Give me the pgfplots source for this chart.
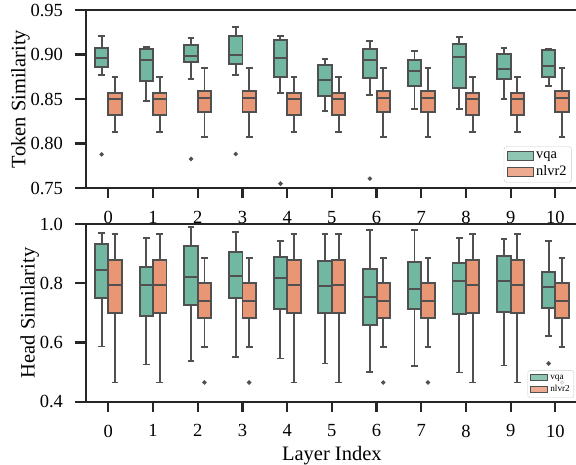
\documentclass[border=0pt]{standalone}
\usepackage{pgfplots}
\pgfplotsset{compat=1.18}
\usepgfplotslibrary{statistics}
\usepackage{fontspec}
\setmainfont{Liberation Serif}
\definecolor{vqa}{RGB}{114,183,161}
\definecolor{nlv}{RGB}{233,150,117}
\definecolor{bgray}{RGB}{80,80,80}
\definecolor{spine}{RGB}{38,38,38}
\pgfplotsset{
  boxplot/draw direction=y,
  boxplot/box extend=0.3,
  boxplot/whisker extend=0.15,
  boxplot/every whisker/.style={draw=bgray, line width=1.9pt},
  boxplot/every median/.style={draw=bgray, line width=1.9pt},
  boxplot/every box/.style={draw=bgray, line width=1.9pt},
  base/.style={
    scale only axis, width=491.7pt,
    xmin=-0.5, xmax=10.5,
    xtick={0,1,2,3,4,5,6,7,8,9,10},
    tick pos=left, tick align=outside,
    major tick length=10.5pt,
    axis line style={spine, line width=2.2pt},
    every tick/.style={spine, line width=2.2pt},
    tick label style={font=\fontsize{18.5}{20}\selectfont},
    xticklabel style={yshift=-9pt},
    yticklabel style={xshift=-9pt},
    label style={font=\fontsize{20.5}{24}\selectfont},
    ylabel style={yshift=-6pt},
    xlabel style={yshift=-2pt},
    /pgf/number format/assume math mode=true,
    legend cell align=left,
  },
  bx/.style={draw=bgray, line width=1.9pt, solid, forget plot, mark=*, mark size=1.1pt, mark options={fill=bgray!70!black, draw=none}},
}
\begin{document}
\begin{tikzpicture}
% ---------------- top panel ----------------
\begin{axis}[base, at={(86pt,277pt)}, anchor=south west, height=178pt,
  ymin=0.75, ymax=0.95, ytick={0.75,0.80,0.85,0.90,0.95},
  yticklabel style={/pgf/number format/.cd, fixed, fixed zerofill, precision=2},
  ylabel={Token Similarity},
  legend style={at={(0.988,0.03)}, anchor=south east, draw=black!20, rounded corners=3pt,
    fill=white, fill opacity=0.8, text opacity=1, font=\fontsize{14.4}{17}\selectfont,
    inner sep=3pt, row sep=2pt},
  legend image code/.code={\draw[#1, sharp corners] (0pt,-4.5pt) rectangle (26pt,4.5pt);},
]
\addlegendimage{fill=vqa, draw=bgray, line width=1.2pt}
\addlegendentry{vqa}
\addlegendimage{fill=nlv, draw=bgray, line width=1.2pt}
\addlegendentry{nlvr2}
% vqa
\addplot[bx, fill=vqa, boxplot prepared={draw position=-0.15, lower whisker=0.8773, lower quartile=0.886, median=0.8961, upper quartile=0.9077, upper whisker=0.9208}] coordinates {(0,0.7878)};
\addplot[bx, fill=vqa, boxplot prepared={draw position=0.85, lower whisker=0.8481, lower quartile=0.8699, median=0.8934, upper quartile=0.9058, upper whisker=0.9088}] coordinates {};
\addplot[bx, fill=vqa, boxplot prepared={draw position=1.85, lower whisker=0.8721, lower quartile=0.8916, median=0.8983, upper quartile=0.9103, upper whisker=0.9182}] coordinates {(0,0.7826)};
\addplot[bx, fill=vqa, boxplot prepared={draw position=2.85, lower whisker=0.877, lower quartile=0.8897, median=0.8991, upper quartile=0.9212, upper whisker=0.9313}] coordinates {(0,0.7882)};
\addplot[bx, fill=vqa, boxplot prepared={draw position=3.85, lower whisker=0.8567, lower quartile=0.8747, median=0.8961, upper quartile=0.9159, upper whisker=0.9212}] coordinates {(0,0.7549)};
\addplot[bx, fill=vqa, boxplot prepared={draw position=4.85, lower whisker=0.8369, lower quartile=0.853, median=0.8717, upper quartile=0.8882, upper whisker=0.8953}] coordinates {};
\addplot[bx, fill=vqa, boxplot prepared={draw position=5.85, lower whisker=0.8549, lower quartile=0.8736, median=0.8938, upper quartile=0.9062, upper whisker=0.9152}] coordinates {(0,0.7605)};
\addplot[bx, fill=vqa, boxplot prepared={draw position=6.85, lower whisker=0.8391, lower quartile=0.865, median=0.8818, upper quartile=0.8938, upper whisker=0.9039}] coordinates {};
\addplot[bx, fill=vqa, boxplot prepared={draw position=7.85, lower whisker=0.8384, lower quartile=0.8624, median=0.8968, upper quartile=0.9114, upper whisker=0.92}] coordinates {};
\addplot[bx, fill=vqa, boxplot prepared={draw position=8.85, lower whisker=0.8496, lower quartile=0.8721, median=0.8837, upper quartile=0.9002, upper whisker=0.9069}] coordinates {};
\addplot[bx, fill=vqa, boxplot prepared={draw position=9.85, lower whisker=0.8646, lower quartile=0.8747, median=0.8867, upper quartile=0.9054, upper whisker=0.9066}] coordinates {};
% nlvr2
\addplot[bx, fill=nlv, boxplot prepared={draw position=0.15, lower whisker=0.8133, lower quartile=0.8317, median=0.85, upper quartile=0.8564, upper whisker=0.8747}] coordinates {};
\addplot[bx, fill=nlv, boxplot prepared={draw position=1.15, lower whisker=0.8133, lower quartile=0.8317, median=0.85, upper quartile=0.8564, upper whisker=0.8747}] coordinates {};
\addplot[bx, fill=nlv, boxplot prepared={draw position=2.15, lower whisker=0.8069, lower quartile=0.8354, median=0.8515, upper quartile=0.8586, upper whisker=0.8845}] coordinates {};
\addplot[bx, fill=nlv, boxplot prepared={draw position=3.15, lower whisker=0.8069, lower quartile=0.8354, median=0.8515, upper quartile=0.8586, upper whisker=0.8845}] coordinates {};
\addplot[bx, fill=nlv, boxplot prepared={draw position=4.15, lower whisker=0.8133, lower quartile=0.8317, median=0.85, upper quartile=0.8564, upper whisker=0.8747}] coordinates {};
\addplot[bx, fill=nlv, boxplot prepared={draw position=5.15, lower whisker=0.8133, lower quartile=0.8317, median=0.85, upper quartile=0.8564, upper whisker=0.8747}] coordinates {};
\addplot[bx, fill=nlv, boxplot prepared={draw position=6.15, lower whisker=0.8069, lower quartile=0.8354, median=0.8515, upper quartile=0.8586, upper whisker=0.8845}] coordinates {};
\addplot[bx, fill=nlv, boxplot prepared={draw position=7.15, lower whisker=0.8069, lower quartile=0.8354, median=0.8515, upper quartile=0.8586, upper whisker=0.8845}] coordinates {};
\addplot[bx, fill=nlv, boxplot prepared={draw position=8.15, lower whisker=0.8133, lower quartile=0.8317, median=0.85, upper quartile=0.8564, upper whisker=0.8747}] coordinates {};
\addplot[bx, fill=nlv, boxplot prepared={draw position=9.15, lower whisker=0.8133, lower quartile=0.8317, median=0.85, upper quartile=0.8564, upper whisker=0.8747}] coordinates {};
\addplot[bx, fill=nlv, boxplot prepared={draw position=10.15, lower whisker=0.8069, lower quartile=0.8354, median=0.8515, upper quartile=0.8586, upper whisker=0.8845}] coordinates {};
\end{axis}
% ---------------- bottom panel ----------------
\begin{axis}[base, at={(86pt,63.3pt)}, anchor=south west, height=177.7pt,
  ymin=0.4, ymax=1.0, ytick={0.4,0.6,0.8,1.0},
  yticklabel style={/pgf/number format/.cd, fixed, fixed zerofill, precision=1},
  ylabel={Head Similarity}, xlabel={Layer Index},
  legend style={at={(0.9925,0.0225)}, anchor=south east, draw=black!20, rounded corners=2pt,
    fill=white, fill opacity=0.8, text opacity=1, font=\fontsize{9.2}{11}\selectfont,
    inner sep=2pt, row sep=1pt},
  legend image code/.code={\draw[#1, sharp corners] (0pt,-2.8pt) rectangle (17.7pt,2.8pt);},
]
\addlegendimage{fill=vqa, draw=bgray, line width=0.9pt}
\addlegendentry{vqa}
\addlegendimage{fill=nlv, draw=bgray, line width=0.9pt}
\addlegendentry{nlvr2}
% vqa
\addplot[bx, fill=vqa, boxplot prepared={draw position=-0.15, lower whisker=0.5863, lower quartile=0.7493, median=0.8437, upper quartile=0.9325, upper whisker=0.9708}] coordinates {};
\addplot[bx, fill=vqa, boxplot prepared={draw position=0.85, lower whisker=0.5256, lower quartile=0.6897, median=0.7943, upper quartile=0.855, upper whisker=0.9528}] coordinates {};
\addplot[bx, fill=vqa, boxplot prepared={draw position=1.85, lower whisker=0.5368, lower quartile=0.7257, median=0.8201, upper quartile=0.9258, upper whisker=0.991}] coordinates {};
\addplot[bx, fill=vqa, boxplot prepared={draw position=2.85, lower whisker=0.5503, lower quartile=0.7493, median=0.8235, upper quartile=0.9067, upper whisker=0.973}] coordinates {};
\addplot[bx, fill=vqa, boxplot prepared={draw position=3.85, lower whisker=0.5458, lower quartile=0.7145, median=0.8179, upper quartile=0.8898, upper whisker=0.9438}] coordinates {};
\addplot[bx, fill=vqa, boxplot prepared={draw position=4.85, lower whisker=0.529, lower quartile=0.701, median=0.792, upper quartile=0.8763, upper whisker=0.9674}] coordinates {};
\addplot[bx, fill=vqa, boxplot prepared={draw position=5.85, lower whisker=0.5008, lower quartile=0.6594, median=0.7538, upper quartile=0.8482, upper whisker=0.9809}] coordinates {};
\addplot[bx, fill=vqa, boxplot prepared={draw position=6.85, lower whisker=0.5211, lower quartile=0.7145, median=0.7808, upper quartile=0.8718, upper whisker=0.9786}] coordinates {};
\addplot[bx, fill=vqa, boxplot prepared={draw position=7.85, lower whisker=0.4986, lower quartile=0.6965, median=0.8066, upper quartile=0.8673, upper whisker=0.9539}] coordinates {};
\addplot[bx, fill=vqa, boxplot prepared={draw position=8.85, lower whisker=0.5222, lower quartile=0.7032, median=0.8078, upper quartile=0.8921, upper whisker=0.9505}] coordinates {};
\addplot[bx, fill=vqa, boxplot prepared={draw position=9.85, lower whisker=0.6211, lower quartile=0.7156, median=0.7886, upper quartile=0.8392, upper whisker=0.9415}] coordinates {(0,0.529)};
% nlvr2
\addplot[bx, fill=nlv, boxplot prepared={draw position=0.15, lower whisker=0.4649, lower quartile=0.6987, median=0.7954, upper quartile=0.8775, upper whisker=0.9674}] coordinates {};
\addplot[bx, fill=nlv, boxplot prepared={draw position=1.15, lower whisker=0.4649, lower quartile=0.6987, median=0.7954, upper quartile=0.8775, upper whisker=0.9674}] coordinates {};
\addplot[bx, fill=nlv, boxplot prepared={draw position=2.15, lower whisker=0.5852, lower quartile=0.683, median=0.7392, upper quartile=0.801, upper whisker=0.8842}] coordinates {(0,0.4649)};
\addplot[bx, fill=nlv, boxplot prepared={draw position=3.15, lower whisker=0.5852, lower quartile=0.683, median=0.7392, upper quartile=0.801, upper whisker=0.8842}] coordinates {(0,0.4649)};
\addplot[bx, fill=nlv, boxplot prepared={draw position=4.15, lower whisker=0.4649, lower quartile=0.6987, median=0.7954, upper quartile=0.8775, upper whisker=0.9674}] coordinates {};
\addplot[bx, fill=nlv, boxplot prepared={draw position=5.15, lower whisker=0.4649, lower quartile=0.6987, median=0.7943, upper quartile=0.8775, upper whisker=0.9674}] coordinates {};
\addplot[bx, fill=nlv, boxplot prepared={draw position=6.15, lower whisker=0.5852, lower quartile=0.683, median=0.7392, upper quartile=0.801, upper whisker=0.8842}] coordinates {(0,0.4649)};
\addplot[bx, fill=nlv, boxplot prepared={draw position=7.15, lower whisker=0.5852, lower quartile=0.683, median=0.7392, upper quartile=0.801, upper whisker=0.8842}] coordinates {(0,0.4649)};
\addplot[bx, fill=nlv, boxplot prepared={draw position=8.15, lower whisker=0.4649, lower quartile=0.6987, median=0.7943, upper quartile=0.8775, upper whisker=0.9674}] coordinates {};
\addplot[bx, fill=nlv, boxplot prepared={draw position=9.15, lower whisker=0.4649, lower quartile=0.6987, median=0.7943, upper quartile=0.8775, upper whisker=0.9674}] coordinates {};
\addplot[bx, fill=nlv, boxplot prepared={draw position=10.15, lower whisker=0.5852, lower quartile=0.683, median=0.7392, upper quartile=0.801, upper whisker=0.8842}] coordinates {(0,0.4649)};
\end{axis}
\pgfresetboundingbox
\path[use as bounding box] (0,0) rectangle (576pt,465pt);
\end{tikzpicture}
\end{document}
